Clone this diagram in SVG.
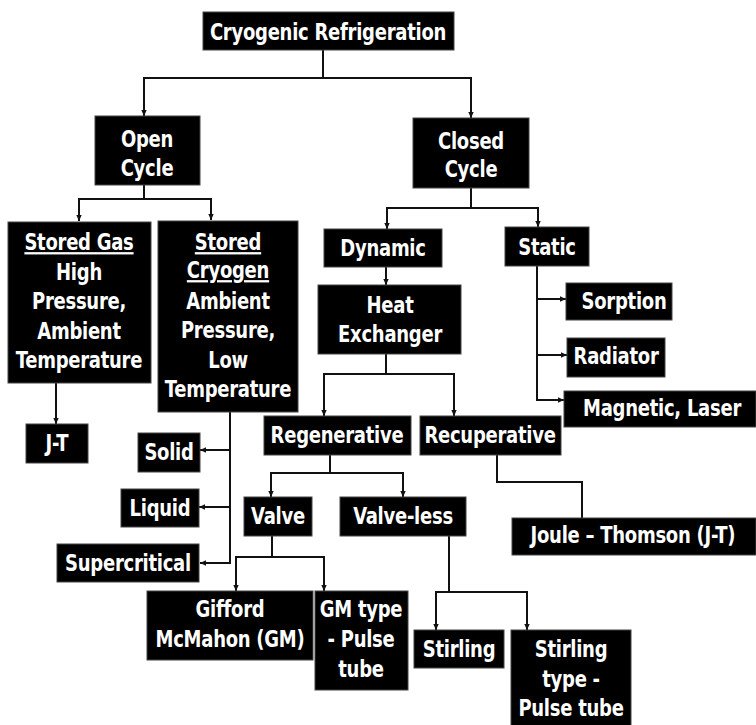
<svg xmlns="http://www.w3.org/2000/svg" width="756" height="725" viewBox="0 0 756 725">
<defs>
<marker id="ah" viewBox="0 0 10 10" refX="10" refY="5" markerWidth="6" markerHeight="6" markerUnits="userSpaceOnUse" orient="auto"><path d="M0,0.5 L10,5 L0,9.5 z" fill="#111"/></marker>
<style>
.b{fill:#000;stroke:#444;stroke-width:1}
.t{fill:#fff;font-family:"DejaVu Sans Condensed","DejaVu Sans",sans-serif;font-weight:bold;font-size:23px;letter-spacing:-0.3px;text-anchor:middle;transform-box:fill-box;transform-origin:center;transform:scaleX(0.87)}
.u{text-decoration:underline}
.c{fill:none;stroke:#111;stroke-width:2}
.a{marker-end:url(#ah)}
</style>
</defs>
<rect width="756" height="725" fill="#fff"/>
<g id="connectors">
<path class="c" d="M323,50 V78 H144 V116"/>
<path class="c a" d="M323,78 H471 V118"/>
<path class="c a" d="M144,100 V116"/>
<path class="c" d="M144,185 V199 H79 V221"/>
<path class="c a" d="M144,199 H211 V220"/>
<path class="c a" d="M79,205 V221"/>
<path class="c a" d="M56,383 V424"/>
<path class="c a" d="M230,412 V563 H200"/>
<path class="c a" d="M230,450 H200"/>
<path class="c a" d="M230,507 H199"/>
<path class="c" d="M471,188 V208 H387 V229"/>
<path class="c a" d="M387,215 V229"/>
<path class="c a" d="M471,208 H538 V227"/>
<path class="c a" d="M386,267 V285"/>
<path class="c" d="M386,354 V374 H324 V416"/>
<path class="c a" d="M324,400 V416"/>
<path class="c a" d="M386,374 H454 V416"/>
<path class="c a" d="M537,266 V400 H564"/>
<path class="c a" d="M537,299 H566"/>
<path class="c a" d="M537,355 H567"/>
<path class="c" d="M330,455 V473 H271 V497"/>
<path class="c a" d="M271,485 V497"/>
<path class="c a" d="M330,473 H403 V497"/>
<path class="c" d="M497,455 V482 H582 V518"/>
<path class="c" d="M272,536 V557 H236 V591"/>
<path class="c a" d="M236,575 V591"/>
<path class="c a" d="M272,557 H324 V591"/>
<path class="c" d="M449,536 V592 H436 V630"/>
<path class="c a" d="M436,615 V630"/>
<path class="c a" d="M449,592 H527 V630"/>
</g>
<g id="cryogenic-refrigeration"><rect class="b" x="203" y="12" width="251" height="38"/><text class="t" x="328" y="40">Cryogenic Refrigeration</text></g>
<g id="open-cycle"><rect class="b" x="95" y="116" width="105" height="69"/><text class="t" x="147" y="147">Open</text><text class="t" x="147" y="176">Cycle</text></g>
<g id="closed-cycle"><rect class="b" x="413" y="118" width="116" height="70"/><text class="t" x="471" y="149">Closed</text><text class="t" x="471" y="177">Cycle</text></g>
<g id="stored-gas"><rect class="b" x="8" y="222" width="143" height="161"/><text class="t u" x="79" y="250">Stored Gas</text><text class="t" x="79" y="280">High</text><text class="t" x="79" y="309">Pressure,</text><text class="t" x="79" y="339">Ambient</text><text class="t" x="79" y="368">Temperature</text></g>
<g id="stored-cryogen"><rect class="b" x="158" y="221" width="140" height="191"/><text class="t u" x="228" y="250">Stored</text><text class="t u" x="228" y="278">Cryogen</text><text class="t" x="228" y="309">Ambient</text><text class="t" x="228" y="338">Pressure,</text><text class="t" x="228" y="368">Low</text><text class="t" x="228" y="397">Temperature</text></g>
<g id="jt"><rect class="b" x="26" y="424" width="62" height="39"/><text class="t" x="57" y="451">J-T</text></g>
<g id="solid"><rect class="b" x="138" y="433" width="62" height="39"/><text class="t" x="169" y="460">Solid</text></g>
<g id="liquid"><rect class="b" x="121" y="489" width="78" height="38"/><text class="t" x="160" y="516">Liquid</text></g>
<g id="supercritical"><rect class="b" x="57" y="544" width="142" height="38"/><text class="t" x="128" y="571">Supercritical</text></g>
<g id="dynamic"><rect class="b" x="324" y="229" width="118" height="38"/><text class="t" x="383" y="256">Dynamic</text></g>
<g id="static"><rect class="b" x="505" y="227" width="84" height="39"/><text class="t" x="547" y="255">Static</text></g>
<g id="heat-exchanger"><rect class="b" x="318" y="285" width="143" height="69"/><text class="t" x="390" y="313">Heat</text><text class="t" x="390" y="342">Exchanger</text></g>
<g id="sorption"><rect class="b" x="566" y="283" width="106" height="37"/><text class="t" x="624" y="309">Sorption</text></g>
<g id="radiator"><rect class="b" x="567" y="338" width="98" height="39"/><text class="t" x="616" y="364">Radiator</text></g>
<g id="magnetic-laser"><rect class="b" x="564" y="391" width="192" height="36"/><text class="t" x="662" y="416">Magnetic, Laser</text></g>
<g id="regenerative"><rect class="b" x="264" y="416" width="147" height="39"/><text class="t" x="337" y="443">Regenerative</text></g>
<g id="recuperative"><rect class="b" x="420" y="416" width="141" height="39"/><text class="t" x="490" y="443">Recuperative</text></g>
<g id="joule-thomson"><rect class="b" x="512" y="518" width="244" height="37"/><text class="t" x="633" y="543">Joule – Thomson (J-T)</text></g>
<g id="valve"><rect class="b" x="244" y="497" width="68" height="39"/><text class="t" x="278" y="524">Valve</text></g>
<g id="valve-less"><rect class="b" x="340" y="497" width="126" height="39"/><text class="t" x="403" y="524">Valve-less</text></g>
<g id="gifford-mcmahon"><rect class="b" x="147" y="591" width="166" height="69"/><text class="t" x="230" y="617">Gifford</text><text class="t" x="230" y="647">McMahon (GM)</text></g>
<g id="gm-pulse-tube"><rect class="b" x="315" y="591" width="93" height="99"/><text class="t" x="361" y="617">GM type</text><text class="t" x="361" y="647">- Pulse</text><text class="t" x="361" y="677">tube</text></g>
<g id="stirling"><rect class="b" x="414" y="630" width="90" height="38"/><text class="t" x="459" y="657">Stirling</text></g>
<g id="stirling-pulse-tube"><rect class="b" x="511" y="630" width="120" height="97"/><text class="t" x="571" y="657">Stirling</text><text class="t" x="571" y="687">type -</text><text class="t" x="571" y="716">Pulse tube</text></g>
</svg>
